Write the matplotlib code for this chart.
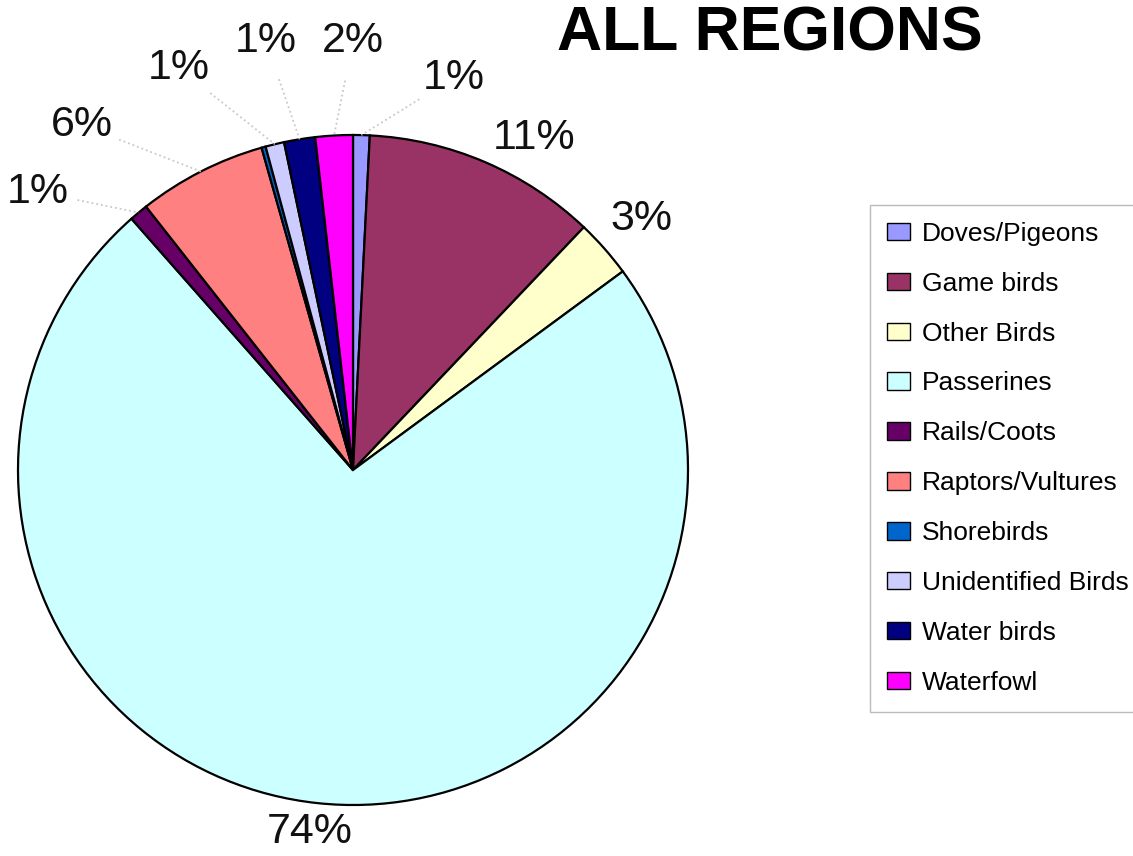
import numpy as np
import matplotlib
matplotlib.use("Agg")
import matplotlib.pyplot as plt

plt.rcParams['font.family'] = ['Liberation Sans', 'DejaVu Sans']

# bird groups, clockwise from 12 o'clock
categories = ["Doves/Pigeons", "Game birds", "Other Birds", "Passerines", "Rails/Coots",
              "Raptors/Vultures", "Shorebirds", "Unidentified Birds", "Water birds", "Waterfowl"]
shares = [0.8, 11.3, 2.8, 73.6, 0.9, 6.2, 0.2, 0.9, 1.5, 1.8]
pct_labels = ["1%", "11%", "3%", "74%", "1%", "6%", "", "1%", "1%", "2%"]
colors = ["#9999FF", "#993366", "#FFFFCC", "#CCFFFF", "#660066",
          "#FF8080", "#0066CC", "#CCCCFF", "#000080", "#FF00FF"]

# label spots (in pie radii)
label_xy = [(0.30, 1.17), (0.54, 0.99), (0.86, 0.75), (-0.13, -1.08), (-0.94, 0.83),
            (-0.81, 1.03), None, (-0.52, 1.20), (-0.26, 1.28), (0.0, 1.28)]
leader = [True, False, False, False, True, True, False, True, True, True]

W, H = 1133, 856
fig = plt.figure(figsize=(W / 100, H / 100), dpi=100)
cx, cy, r = 353, 470, 335
ax = fig.add_axes([(cx - r) / W, (H - cy - r) / H, 2 * r / W, 2 * r / H])

wedges, _ = ax.pie(shares, colors=colors, startangle=90, counterclock=False,
                   wedgeprops=dict(edgecolor="black", linewidth=1.6))
ax.set_xlim(-1, 1)
ax.set_ylim(-1, 1)
ax.set_aspect("equal")
ax.axis("off")

for w, lab, xy, ld in zip(wedges, pct_labels, label_xy, leader):
    if not lab:
        continue
    ax.text(xy[0], xy[1], lab, ha="center", va="center", fontsize=31, color="#111111")
    if ld:
        mid = np.deg2rad((w.theta1 + w.theta2) / 2)
        ex, ey = np.cos(mid), np.sin(mid)
        d = np.array([ex - xy[0], ey - xy[1]])
        d = d / np.hypot(*d)
        sx, sy = xy[0] + d[0] * 0.12, xy[1] + d[1] * 0.12
        ax.plot([sx, ex], [sy, ey], color="#c8c8c8", linestyle=":",
                linewidth=1.3, clip_on=False)

fig.text(770 / W, 1 - 34 / H, "ALL REGIONS", ha="center", va="center",
         fontsize=45, fontweight="bold")

leg = fig.legend(wedges, categories, loc="upper left",
                 bbox_to_anchor=(870 / W, 1 - 205 / H), fontsize=19,
                 frameon=True, fancybox=False, edgecolor="#aaaaaa",
                 labelspacing=0.98, handlelength=0.87, handleheight=0.64,
                 handletextpad=0.45, borderpad=0.64, borderaxespad=0)
leg.get_frame().set_linewidth(1.0)
for h in leg.legend_handles:
    h.set_linewidth(1.0)

fig.savefig("out.png", dpi=100, facecolor="white")
